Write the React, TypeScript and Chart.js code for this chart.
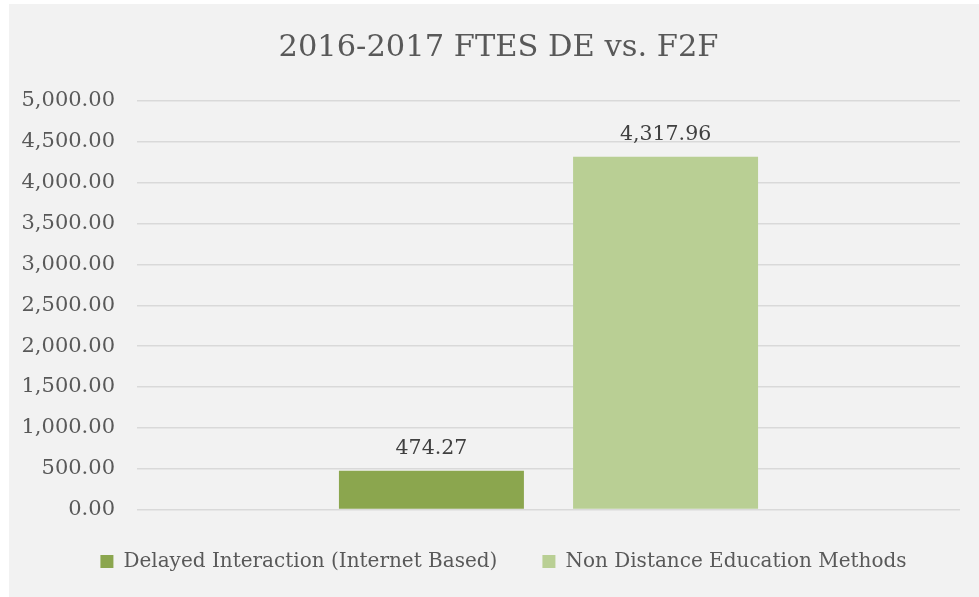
import React, { useEffect, useRef } from "react";
import { Chart, registerables } from "chart.js";

Chart.register(...registerables);

const categories = [""];
const seriesNames = ["Delayed Interaction (Internet Based)", "Non Distance Education Methods"];
const delayedValues = [474.27];
const nonDistanceValues = [4317.96];
const seriesColors = ["#8ba64e", "#b9cf94"];
const yTicks = [0, 500, 1000, 1500, 2000, 2500, 3000, 3500, 4000, 4500, 5000];

const FONT = "'DejaVu Serif', serif";

const fmt = (v: number) =>
  v.toLocaleString("en-US", { minimumFractionDigits: 2, maximumFractionDigits: 2 });

const labelPlugin = {
  id: "barLabels",
  afterDatasetsDraw(chart: any) {
    const ctx = chart.ctx;
    ctx.save();
    ctx.font = `20.5px ${FONT}`;
    ctx.fillStyle = "#404040";
    ctx.textAlign = "center";
    ctx.textBaseline = "alphabetic";
    chart.data.datasets.forEach((ds: any, i: number) => {
      const meta = chart.getDatasetMeta(i);
      meta.data.forEach((el: any, j: number) => {
        ctx.fillText(fmt(ds.data[j]), el.x, el.y - 17);
      });
    });
    ctx.restore();
  },
};

// shift title and legend blocks horizontally to match the reference's centring
const shiftPlugin = {
  id: "shiftBlocks",
  afterLayout(chart: any) {
    if (chart.titleBlock) {
      chart.titleBlock.left += 14;
      chart.titleBlock.right += 14;
    }
    if (chart.legend) {
      chart.legend.left += 19;
      chart.legend.right += 19;
    }
  },
};

export default function App() {
  const ref = useRef<HTMLCanvasElement>(null);
  useEffect(() => {
    if (!ref.current) return;
    const chart = new Chart(ref.current, {
      type: "bar",
      data: {
        labels: categories,
        datasets: [
          {
            label: seriesNames[0],
            data: delayedValues,
            backgroundColor: seriesColors[0],
            categoryPercentage: 0.569,
            barPercentage: 0.79,
          },
          {
            label: seriesNames[1],
            data: nonDistanceValues,
            backgroundColor: seriesColors[1],
            categoryPercentage: 0.569,
            barPercentage: 0.79,
          },
        ],
      },
      options: {
        animation: false,
        responsive: true,
        maintainAspectRatio: false,
        layout: { padding: { left: 0, right: 19, top: 10, bottom: 12.5 } },
        plugins: {
          title: {
            display: true,
            text: "2016-2017 FTES DE vs. F2F",
            color: "#595959",
            font: { family: FONT, size: 30.5, weight: "normal" },
            padding: { top: 15.7, bottom: 34.7 },
          },
          legend: {
            position: "bottom",
            labels: {
              color: "#595959",
              font: { family: FONT, size: 20 },
              boxWidth: 13,
              boxHeight: 13,
              padding: 45,
            },
          },
          tooltip: { enabled: false },
        },
        scales: {
          x: {
            afterFit: (s: any) => {
              s.height = -3;
            },
            grid: { display: false, drawTicks: false },
            border: { display: false },
            ticks: { display: false },
          },
          y: {
            min: 0,
            max: 5000,
            afterFit: (s: any) => {
              s.width = 128;
            },
            afterBuildTicks: (s: any) => {
              s.ticks = yTicks.map((v) => ({ value: v }));
            },
            grid: { color: "#d9d9d9", lineWidth: 1.5, drawTicks: false },
            border: { display: false },
            ticks: {
              color: "#595959",
              font: { family: FONT, size: 21 },
              padding: 22,
              callback: (v: any) => fmt(Number(v)),
            },
          },
        },
      },
      plugins: [labelPlugin, shiftPlugin],
    });
    return () => chart.destroy();
  }, []);
  return (
    <div
      style={{
        position: "absolute",
        left: 9,
        top: 4,
        width: 970,
        height: 593,
        background: "#f2f2f2",
      }}
    >
      <canvas ref={ref} />
    </div>
  );
}
